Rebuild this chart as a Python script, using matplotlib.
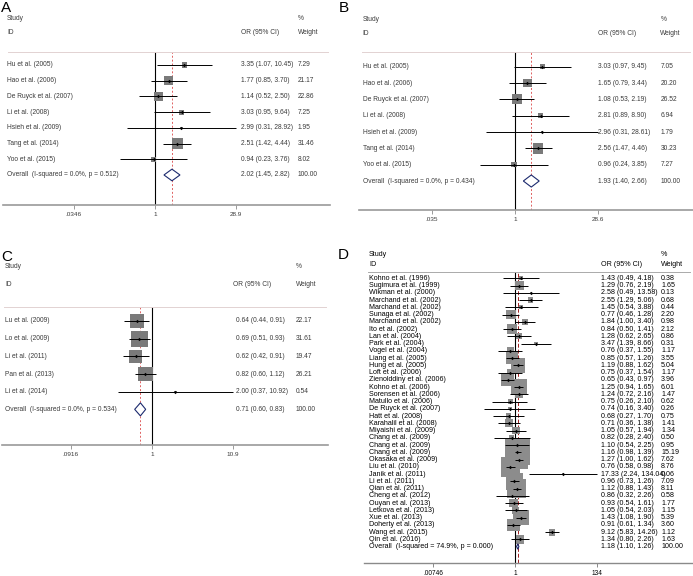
import numpy as np
import matplotlib.pyplot as plt
from matplotlib import transforms

plt.rcParams['font.family'] = ['Liberation Sans', 'DejaVu Sans']

# ---- panel A ----
a_names = ['Hu et al. (2005)', 'Hao et al. (2006)', 'De Ruyck et al. (2007)', 'Li et al. (2008)',
           'Hsieh et al. (2009)', 'Tang et al. (2014)', 'Yoo et al. (2015)']
a_or = [3.35, 1.77, 1.14, 3.03, 2.99, 2.51, 0.94]
a_lo = [1.07, 0.85, 0.52, 0.95, 0.31, 1.42, 0.23]
a_hi = [10.45, 3.70, 2.50, 9.64, 28.92, 4.44, 3.76]
a_wt = [7.29, 21.17, 22.86, 7.25, 1.95, 31.46, 8.02]
a_overall = [2.02, 1.45, 2.82]
a_label = 'Overall  (I-squared = 0.0%, p = 0.512)'
a_ticks = [0.0346, 1, 28.9]
a_ticklabels = ['.0346', '1', '28.9']

# ---- panel B ----
b_names = a_names
b_or = [3.03, 1.65, 1.08, 2.81, 2.96, 2.56, 0.96]
b_lo = [0.97, 0.79, 0.53, 0.89, 0.31, 1.47, 0.24]
b_hi = [9.45, 3.44, 2.19, 8.90, 28.61, 4.46, 3.85]
b_wt = [7.05, 20.20, 26.52, 6.94, 1.79, 30.23, 7.27]
b_overall = [1.93, 1.40, 2.66]
b_label = 'Overall  (I-squared = 0.0%, p = 0.434)'
b_ticks = [0.035, 1, 28.6]
b_ticklabels = ['.035', '1', '28.6']

# ---- panel C ----
c_names = ['Lu et al. (2009)', 'Lo et al. (2009)', 'Li et al. (2011)', 'Pan et al. (2013)', 'Li et al. (2014)']
c_or = [0.64, 0.69, 0.62, 0.82, 2.00]
c_lo = [0.44, 0.51, 0.42, 0.60, 0.37]
c_hi = [0.91, 0.93, 0.91, 1.12, 10.92]
c_wt = [22.17, 31.61, 19.47, 26.21, 0.54]
c_overall = [0.71, 0.60, 0.83]
c_label = 'Overall  (I-squared = 0.0%, p = 0.534)'
c_ticks = [0.0916, 1, 10.9]
c_ticklabels = ['.0916', '1', '10.9']

# ---- panel D ----
d_names = ['Kohno et al. (1996)', 'Sugimura et al. (1999)', 'Wikman et al. (2000)', 'Marchand et al. (2002)',
           'Marchand et al. (2002)', 'Sunaga et al. (2002)', 'Marchand et al. (2002)', 'Ito et al. (2002)',
           'Lan et al. (2004)', 'Park et al. (2004)', 'Vogel et al. (2004)', 'Liang et al. (2005)',
           'Hung et al. (2005)', 'Loft et al. (2006)', 'Zienolddiny et al. (2006)', 'Kohno et al. (2006)',
           'Sorensen et al. (2006)', 'Matullo et al. (2006)', 'De Ruyck et al. (2007)', 'Hatt et al. (2008)',
           'Karahalil et al. (2008)', 'Miyaishi et al. (2009)', 'Chang et al. (2009)', 'Chang et al. (2009)',
           'Chang et al. (2009)', 'Okasaka et al. (2009)', 'Liu et al. (2010)', 'Janik et al. (2011)',
           'Li et al. (2011)', 'Qian et al. (2011)', 'Cheng et al. (2012)', 'Ouyan et al. (2013)',
           'Letkova et al. (2013)', 'Xue et al. (2013)', 'Doherty et al. (2013)', 'Wang et al. (2015)',
           'Qin et al. (2016)']
d_or = [1.43, 1.29, 2.58, 2.55, 1.45, 0.77, 1.84, 0.84, 1.28, 3.47, 0.76, 0.85, 1.19, 0.75, 0.65, 1.25,
        1.24, 0.75, 0.74, 0.68, 0.71, 1.05, 0.82, 1.10, 1.16, 1.27, 0.76, 17.33, 0.96, 1.12, 0.86, 0.93,
        1.05, 1.43, 0.91, 9.12, 1.34]
d_lo = [0.49, 0.76, 0.49, 1.29, 0.54, 0.46, 1.00, 0.50, 0.62, 1.39, 0.37, 0.57, 0.88, 0.37, 0.43, 0.94,
        0.72, 0.26, 0.16, 0.27, 0.36, 0.57, 0.28, 0.54, 0.98, 1.00, 0.58, 2.24, 0.73, 0.88, 0.32, 0.54,
        0.54, 1.08, 0.61, 5.83, 0.80]
d_hi = [4.18, 2.19, 13.58, 5.06, 3.88, 1.28, 3.40, 1.41, 2.65, 8.66, 1.55, 1.26, 1.62, 1.54, 0.97, 1.65,
        2.16, 2.10, 3.40, 1.70, 1.38, 1.94, 2.40, 2.25, 1.39, 1.62, 0.98, 134.04, 1.26, 1.43, 2.26, 1.61,
        2.03, 1.90, 1.34, 14.26, 2.26]
d_wt = [0.38, 1.65, 0.13, 0.68, 0.44, 2.20, 0.98, 2.12, 0.86, 0.31, 1.17, 3.55, 5.04, 1.17, 3.96, 6.01,
        1.47, 0.62, 0.26, 0.75, 1.41, 1.34, 0.50, 0.95, 15.19, 7.62, 8.76, 0.06, 7.09, 8.11, 0.58, 1.77,
        1.15, 5.39, 3.60, 1.12, 1.63]
d_overall = [1.18, 1.10, 1.26]
d_label = 'Overall  (I-squared = 74.9%, p = 0.000)'
d_ticks = [0.00746, 1, 134]
d_ticklabels = ['.00746', '1', '134']

W, H = 693, 576
fig = plt.figure(figsize=(W / 100, H / 100), dpi=100)


def forest(lay, names, ors, los, his, wts, overall, label, ticks, ticklabels, sty):
    L, R, T, B = lay['box']
    x1, s, y0, dy = lay['x1'], lay['s'], lay['y0'], lay['dy']
    ax = fig.add_axes([L / W, 1 - B / H, (R - L) / W, (B - T) / H])
    ax.set_xscale('log')
    ax.set_xlim(np.exp((L - x1) / s), np.exp((R - x1) / s))
    ax.set_ylim((B - y0) / dy, (T - y0) / dy)
    ax.patch.set_alpha(0)
    for sp in ['top', 'left', 'right']:
        ax.spines[sp].set_visible(False)
    ax.spines['bottom'].set_color(sty['axis_col'])
    ax.spines['bottom'].set_linewidth(sty['axis_lw'])
    ax.set_yticks([])
    ax.set_xticks(ticks)
    ax.set_xticklabels(ticklabels)
    ax.xaxis.set_minor_locator(plt.NullLocator())
    ax.tick_params(axis='x', length=3, width=0.7, color=sty['axis_col'], pad=2,
                   labelsize=sty['tick_fs'], labelcolor=sty['txt'])

    rows = np.arange(len(names))
    n = len(names)
    k = sty['k'] / (100 / 72)
    ax.axvline(1, color='black', lw=0.8, zorder=1)
    ax.axvline(overall[0], color=sty['red'], lw=0.7, ls=sty['red_ls'], zorder=1)
    ax.scatter(ors, rows, marker='s', s=(k * np.sqrt(wts)) ** 2, color=sty['box'],
               linewidths=0, zorder=2)
    ax.hlines(rows, los, his, color='black', lw=0.7, zorder=3)
    ax.scatter(ors, rows, marker='D', s=sty['dot'], color='black', linewidths=0, zorder=4)
    h = 0.37
    est, lo, hi = overall
    ax.fill([lo, est, hi, est], [n, n - h, n, n + h], facecolor='white',
            edgecolor='#1c2a6e', lw=0.8, zorder=3)

    tr = transforms.blended_transform_factory(ax.transAxes, ax.transData)
    fx = lambda xp: (xp - L) / (R - L)
    fy = lambda yp: (yp - y0) / dy
    kw = dict(transform=tr, fontsize=sty['fs'], color=sty['txt'], va='center', clip_on=False)
    nx, ox, wx = lay['cols']
    for i in rows:
        ax.text(fx(nx), i, names[i], **kw)
        ax.text(fx(ox), i, f'{ors[i]:.2f} ({los[i]:.2f}, {his[i]:.2f})', **kw)
        ax.text(fx(wx), i, f'{wts[i]:.2f}', **kw)
    ax.text(fx(nx), n, label, **kw)
    ax.text(fx(ox), n, f'{est:.2f} ({lo:.2f}, {hi:.2f})', **kw)
    ax.text(fx(wx), n, '100.00', **kw)

    ys, yi = lay['hdr_y']
    ax.text(fx(nx), fy(ys), 'Study', **kw)
    ax.text(fx(nx), fy(yi), 'ID', **kw)
    ax.text(fx(lay['or_hdr']), fy(yi), 'OR (95% CI)', **kw)
    ax.text(fx(wx), fy(ys), '%', **kw)
    ax.text(fx(wx), fy(yi), 'Weight', **kw)
    hl0, hl1 = lay['hline']
    ax.plot([fx(hl0), fx(hl1)], [fy(T), fy(T)], transform=tr, color=sty['hline'],
            lw=0.7, clip_on=False)
    return ax


sty_abc = dict(axis_col='#9a9a9a', axis_lw=1.2, tick_fs=4.6, txt='#3a3a3a', k=1.9,
               box='#7a7a7a', red='#e06060', red_ls=(0, (2, 2)), dot=3, fs=4.8, hline='#e2d2d2')
sty_c = dict(sty_abc, k=2.9)
sty_d = dict(axis_col='#8a8a8a', axis_lw=1.0, tick_fs=4.7, txt='black', k=6.6,
             box='#8c8c8c', red='#a02020', red_ls=(0, (4, 2)), dot=3, fs=5.1, hline='#aaaaaa')

lay_a = dict(box=(3, 330, 52, 205), x1=155, s=24.1, y0=65, dy=15.71,
             cols=(7, 240.5, 298), or_hdr=240.5, hdr_y=(18, 33), hline=(8, 328))
lay_b = dict(box=(359, 693, 52, 210), x1=515, s=24.75, y0=66.7, dy=16.33,
             cols=(362.7, 597.7, 660.3), or_hdr=597.7, hdr_y=(19, 33.5), hline=(362, 690))
lay_c = dict(box=(2, 328, 307, 445), x1=152, s=33.9, y0=321, dy=17.67,
             cols=(5, 236, 296), or_hdr=233, hdr_y=(267, 285), hline=(4, 326))
lay_d = dict(box=(364, 693, 272, 562.7), x1=515, s=16.74, y0=278.3, dy=7.25,
             cols=(369, 601, 661), or_hdr=601, hdr_y=(255, 264), hline=(368, 690))

forest(lay_a, a_names, a_or, a_lo, a_hi, a_wt, a_overall, a_label, a_ticks, a_ticklabels, sty_abc)
forest(lay_b, b_names, b_or, b_lo, b_hi, b_wt, b_overall, b_label, b_ticks, b_ticklabels, sty_abc)
forest(lay_c, c_names, c_or, c_lo, c_hi, c_wt, c_overall, c_label, c_ticks, c_ticklabels, sty_c)
forest(lay_d, d_names, d_or, d_lo, d_hi, d_wt, d_overall, d_label, d_ticks, d_ticklabels, sty_d)

for letter, xp, yp in [('A', 1, 12), ('B', 339, 12), ('C', 1, 261), ('D', 338, 259)]:
    fig.text(xp / W, 1 - yp / H, letter, fontsize=11, va='baseline', ha='left', color='black')

fig.savefig('out.png', dpi=100)
